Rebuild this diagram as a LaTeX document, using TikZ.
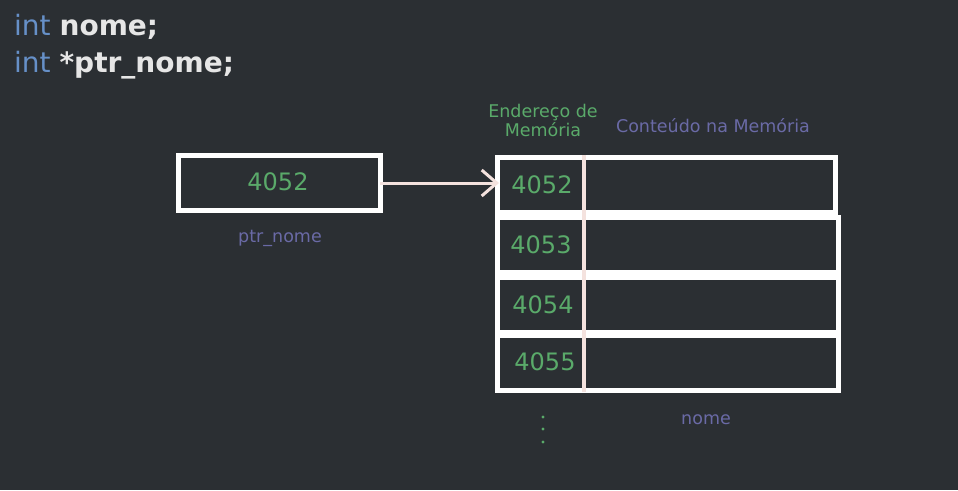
\documentclass[tikz,border=0pt]{standalone}
\usepackage{fontspec}
\setmainfont{DejaVu Sans}
\usetikzlibrary{arrows.meta}
\definecolor{bg}{HTML}{2B2F33}
\definecolor{grn}{HTML}{5AAA6A}
\definecolor{prp}{HTML}{6A6AA6}
\definecolor{kw}{HTML}{6690C8}
\definecolor{codew}{HTML}{E6E6E6}
\definecolor{pink}{HTML}{F4E2DE}
\tikzset{
  cell/.style={draw=white, line width=5pt},
  addr/.style={text=grn, font=\fontsize{24}{28}\selectfont, inner sep=0pt},
  lbl/.style={text=prp, font=\fontsize{17.5}{21}\selectfont, inner sep=0pt},
  glbl/.style={text=grn, font=\fontsize{17.5}{21}\selectfont, inner sep=0pt, align=center},
  code/.style={font=\fontsize{28}{32}\selectfont, inner sep=0pt, anchor=base west},
}
\begin{document}
\begin{tikzpicture}[x=1pt,y=-1pt]
\fill[bg] (0,0) rectangle (958,490);
\useasboundingbox (0,0) rectangle (958,490);
% code
\node[code] (c1) at (14,35) {\textcolor{kw}{int} \textcolor{codew}{\bfseries nome;}};
\node[code] (c2) at (14,72) {\textcolor{kw}{int} \textcolor{codew}{\bfseries *ptr\_nome;}};
% pointer box
\draw[cell] (178,155.5) rectangle (380,210);
\node[addr] (pv) at (278,182) {4052};
\coordinate (pr) at (380,183);
\node[lbl] (pl) at (280,238) {ptr\_nome};
% memory rows
\draw[cell] (497.5,157.5) rectangle (835.5,212);
\draw[cell] (497.5,217.5) rectangle (838.5,272.5);
\draw[cell] (497.5,277.5) rectangle (838.5,332.5);
\draw[cell] (497.5,335) rectangle (838.5,390.5);
\draw[pink, line width=4pt] (584,155) -- (584,392);
\coordinate (rl) at (499,183);
\node[addr] (a1) at (542,185) {4052};
\node[addr] (a2) at (541,245) {4053};
\node[addr] (a3) at (543,305) {4054};
\node[addr] (a4) at (545,362) {4055};
% arrow
\draw[pink, line width=3pt, -{Straight Barb[length=15pt,width=26pt,line width=3pt]}] (pr) -- (rl);
% headers
\node[glbl] (h1) at (543,120) {Endereço de\\[-2pt]Memória};
\node[lbl] (h2) at (713,126) {Conteúdo na Memória};
\node[lbl] (nm) at (706,420) {nome};
% dots
\foreach \y in {417,429,442} \fill[grn] (543,\y) circle (1.7);
\end{tikzpicture}
\end{document}
